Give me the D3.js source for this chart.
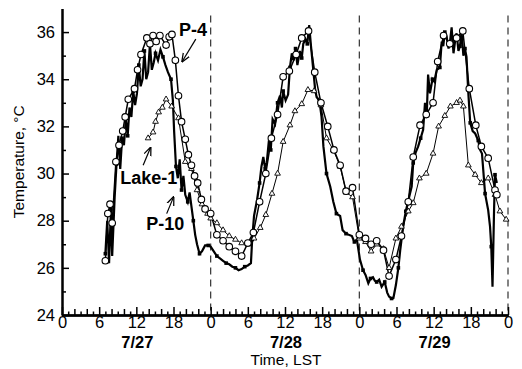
<!DOCTYPE html>
<html>
<head>
<meta charset="utf-8">
<script src="https://cdn.jsdelivr.net/npm/d3@7"></script>
<style>
  body { margin: 0; background: #fff; }
  svg { font-family: "Liberation Sans", Arial, Helvetica, sans-serif; }
</style>
</head>
<body>
<svg id="chart"></svg>
<script>
// [hour since 7/27 00:00, temperature °C]
const p4 = [
  [7.0, 26.3], [7.4, 28.3], [7.75, 28.7], [8.1, 27.9], [8.7, 30.5], [9.2, 31.2], [9.8, 31.8],
  [10.2, 32.4], [10.7, 33.15], [11.7, 33.6], [12.2, 34.4], [12.75, 35.05], [13.7, 35.75],
  [14.2, 35.5], [14.7, 35.85], [15.2, 35.6], [15.8, 35.85], [16.8, 35.45], [17.3, 35.8],
  [17.75, 35.9], [18.3, 34.8], [18.8, 33.3], [19.3, 32.2], [19.9, 31.45], [20.4, 30.8],
  [20.9, 30.35], [21.4, 29.9], [21.9, 29.6], [22.5, 28.9], [23.1, 28.5], [24.0, 28.3],
  [25.0, 27.4], [26.0, 27.15], [27.0, 26.9], [28.0, 26.7], [29.0, 26.5], [30.0, 27.05],
  [30.9, 27.5], [31.9, 28.8], [32.9, 30.0], [33.8, 31.5], [34.8, 32.5], [35.7, 34.1],
  [36.7, 34.35], [37.8, 35.05], [38.7, 35.75], [39.8, 36.05], [40.8, 34.3], [41.8, 33.0],
  [42.9, 32.0], [43.9, 31.0], [44.9, 30.35], [45.85, 29.25], [46.9, 29.4], [48.0, 27.4],
  [49.0, 27.25], [49.9, 27.0], [50.8, 27.15], [51.9, 26.75], [52.8, 25.65], [53.9, 26.35],
  [54.8, 27.35], [55.9, 28.8], [56.7, 30.7], [57.8, 32.05], [58.8, 32.5], [59.9, 33.0],
  [60.65, 34.75], [61.6, 35.85], [62.6, 35.5], [63.7, 35.75], [64.7, 36.05], [65.75, 33.6],
  [66.8, 32.05], [67.7, 31.15], [68.8, 30.65], [69.9, 29.3], [70.2, 29.1]
];

const lake1 = [
  [13.9, 31.5], [14.7, 31.75], [15.1, 32.2], [15.6, 32.6], [16.2, 32.8], [16.8, 33.15],
  [17.7, 32.85], [18.8, 32.35], [19.9, 30.5], [20.9, 30.2], [21.8, 29.3], [22.6, 28.7],
  [23.5, 28.3], [24.0, 28.1], [25.0, 27.9], [26.0, 27.6], [27.0, 27.35], [28.0, 27.2],
  [29.0, 27.05], [30.0, 27.0], [31.0, 27.25], [32.0, 27.7], [32.9, 28.25], [33.9, 29.15],
  [34.8, 30.0], [35.7, 31.35], [36.8, 32.05], [37.6, 32.65], [38.7, 32.95], [39.7, 33.55],
  [40.7, 33.5], [41.8, 32.9], [42.7, 31.5], [43.8, 31.0], [44.9, 30.3], [45.9, 29.2],
  [46.9, 29.0], [48.0, 27.25], [49.0, 27.1], [49.9, 26.7], [50.8, 27.0], [51.9, 26.8],
  [52.8, 26.0], [53.9, 27.25], [54.8, 27.75], [55.9, 28.4], [56.7, 28.75], [57.7, 29.8],
  [58.8, 30.0], [59.9, 30.85], [60.8, 32.0], [61.8, 32.45], [62.7, 32.85], [63.7, 33.0],
  [64.25, 33.1], [64.8, 32.85], [65.6, 30.35], [66.7, 29.95], [67.7, 29.6], [68.8, 29.8],
  [69.9, 29.1], [70.7, 28.4], [71.7, 28.05]
];

const p10 = [
  [7.0, 26.6], [7.3, 28.0], [7.6, 26.2], [7.9, 28.5], [8.1, 26.5], [8.5, 29.0], [8.8, 30.4],
  [9.1, 31.6], [9.4, 30.2], [9.7, 31.5], [10.0, 31.2], [10.3, 32.3], [10.6, 31.6], [10.9, 32.8],
  [11.2, 32.4], [11.5, 33.5], [11.8, 32.9], [12.1, 33.4], [12.4, 34.6], [12.7, 33.7],
  [13.0, 34.0], [13.3, 35.2], [13.6, 34.0], [13.9, 34.3], [14.2, 35.5], [14.5, 34.4],
  [14.8, 34.7], [15.1, 35.1], [15.5, 34.8], [15.9, 35.25], [16.3, 34.95], [16.7, 34.6],
  [17.1, 34.3], [17.6, 34.0], [17.9, 33.1], [18.1, 31.8], [18.4, 30.3], [18.7, 29.8],
  [19.0, 30.6], [19.3, 29.3], [19.6, 29.9], [19.9, 29.1], [20.3, 28.8], [20.6, 29.2],
  [20.9, 28.6], [21.2, 28.0], [21.5, 27.4], [21.8, 27.0], [22.2, 26.6], [22.6, 26.7],
  [23.1, 26.95], [23.6, 26.95], [24.0, 26.9], [24.5, 26.7], [25.0, 26.5], [25.5, 26.4],
  [26.0, 26.3], [26.5, 26.2], [27.0, 26.15], [27.5, 26.05], [28.0, 26.0], [28.5, 25.9],
  [29.0, 25.95], [29.5, 26.05], [30.0, 26.1], [30.5, 26.2], [30.7, 27.2], [31.0, 28.2],
  [31.5, 28.9], [31.9, 29.6], [32.2, 30.3], [32.5, 30.7], [32.8, 30.2], [33.05, 30.45],
  [33.4, 31.4], [33.7, 31.0], [34.0, 32.3], [34.4, 32.1], [34.8, 33.0], [35.2, 33.3],
  [35.5, 32.8], [35.7, 33.5], [36.1, 33.1], [36.5, 33.35], [36.8, 34.5], [37.1, 35.1],
  [37.4, 34.8], [37.7, 35.3], [38.0, 34.6], [38.4, 35.2], [38.7, 34.9], [38.95, 35.5],
  [39.3, 35.7], [39.6, 35.5], [39.9, 36.3], [40.2, 35.4], [40.6, 34.3], [40.85, 33.6],
  [41.1, 33.25], [41.55, 33.1], [41.9, 32.4], [42.2, 31.15], [42.7, 30.0], [43.3, 29.45],
  [43.8, 28.8], [44.3, 28.3], [44.9, 28.2], [45.3, 27.6], [45.85, 27.45], [46.3, 27.4],
  [46.8, 27.35], [47.2, 27.1], [47.6, 27.2], [48.1, 26.35], [48.6, 25.9], [49.0, 25.7],
  [49.45, 25.35], [49.8, 25.55], [50.2, 25.6], [50.5, 25.45], [50.8, 25.4], [51.2, 25.5],
  [51.6, 25.2], [52.1, 25.4], [52.5, 24.95], [52.8, 24.78], [53.2, 24.7], [53.5, 24.72],
  [53.9, 25.27], [54.3, 26.0], [54.6, 26.75], [55.1, 27.8], [55.5, 28.4], [55.9, 28.85],
  [56.45, 29.45], [56.7, 30.45], [57.1, 30.9], [57.5, 31.15], [57.9, 31.5], [58.3, 31.85],
  [58.6, 33.0], [58.9, 32.6], [59.1, 34.2], [59.4, 33.4], [59.8, 34.0], [60.1, 33.9],
  [60.5, 34.4], [61.0, 34.5], [61.3, 35.6], [61.55, 35.4], [61.8, 36.0], [62.1, 35.8],
  [62.4, 35.3], [62.6, 35.5], [62.9, 36.2], [63.2, 35.1], [63.5, 35.7], [63.7, 35.95],
  [64.0, 35.2], [64.25, 35.4], [64.5, 36.0], [64.8, 35.0], [65.05, 35.3], [65.3, 34.95],
  [65.6, 33.4], [65.9, 32.15], [66.3, 31.8], [66.7, 31.7], [67.2, 31.4], [67.5, 31.0],
  [67.8, 30.85], [68.3, 29.15], [68.8, 28.45], [69.1, 27.75], [69.3, 26.9], [69.5, 25.2],
  [69.75, 28.45], [69.9, 29.95], [70.2, 29.6]
];

const yMajorTicks = [24, 26, 28, 30, 32, 34, 36];
const yMinorTicks = [25, 27, 29, 31, 33, 35];
const xMajorTicks = [0, 6, 12, 18, 24, 30, 36, 42, 48, 54, 60, 66, 72];
const dayLabels = ['7/27', '7/28', '7/29'];
const dayCenters = [12, 36, 60];
const midnights = [24, 48, 72];

// series labels, placed in data coordinates: text anchor and arrow from -> to
const seriesNotes = [
  { text: 'P-4', at: [18.9, 35.85], arrow: [[21.6, 35.7], [19.4, 34.75]] },
  { text: 'Lake-1', at: [9.4, 29.55], arrow: [[13.1, 30.35], [14.3, 31.1]] },
  { text: 'P-10', at: [13.6, 27.6], arrow: [[16.9, 28.3], [18.0, 29.0]] }
];

const svgWidth = 522;
const svgHeight = 369;
const margin = { top: 8.5, right: 14, bottom: 54, left: 62 };
const width = svgWidth - margin.left - margin.right;
const height = svgHeight - margin.top - margin.bottom;

const x = d3.scaleLinear().domain([0, 72]).range([0, width]);
const y = d3.scaleLinear().domain([24, 37]).range([height, 0]);

const svg = d3.select('#chart')
  .attr('width', svgWidth)
  .attr('height', svgHeight)
  .append('g')
    .attr('transform', `translate(${margin.left}, ${margin.top})`);

svg.append('defs').append('marker')
  .attr('id', 'head')
  .attr('viewBox', '0 0 10 10')
  .attr('refX', 9)
  .attr('refY', 5)
  .attr('markerWidth', 9)
  .attr('markerHeight', 9)
  .attr('markerUnits', 'userSpaceOnUse')
  .attr('orient', 'auto')
  .append('path')
    .attr('d', 'M0,1 L10,5 L0,9')
    .attr('fill', 'none')
    .attr('stroke', '#000')
    .attr('stroke-width', 1.4);

// day boundaries
svg.selectAll('.midnight')
  .data(midnights)
  .enter()
  .append('line')
    .attr('class', 'midnight')
    .attr('x1', d => x(d))
    .attr('x2', d => x(d))
    .attr('y1', y(36.7))
    .attr('y2', y(24))
    .attr('stroke', '#333')
    .attr('stroke-width', 1.2)
    .attr('stroke-dasharray', '7,5');

const line = d3.line()
  .x(d => x(d[0]))
  .y(d => y(d[1]));

svg.append('path').datum(lake1)
  .attr('d', line).attr('fill', 'none').attr('stroke', '#000').attr('stroke-width', 1);
svg.append('path').datum(p4)
  .attr('d', line).attr('fill', 'none').attr('stroke', '#000').attr('stroke-width', 1.5);
svg.append('path').datum(p10)
  .attr('d', line).attr('fill', 'none').attr('stroke', '#000').attr('stroke-width', 2.2)
  .attr('stroke-linejoin', 'miter');

// P-10 marks
svg.selectAll('.sq')
  .data(p10.filter((d, i) => i % 3 === 0))
  .enter()
  .append('rect')
    .attr('class', 'sq')
    .attr('x', d => x(d[0]) - 1.8)
    .attr('y', d => y(d[1]) - 1.8)
    .attr('width', 3.6)
    .attr('height', 3.6)
    .attr('fill', '#000');

svg.selectAll('.tri')
  .data(lake1)
  .enter()
  .append('path')
    .attr('class', 'tri')
    .attr('transform', d => `translate(${x(d[0])}, ${y(d[1])})`)
    .attr('d', d3.symbol(d3.symbolTriangle, 14))
    .attr('fill', '#fff')
    .attr('stroke', '#000')
    .attr('stroke-width', 0.9);

svg.selectAll('.dot')
  .data(p4)
  .enter()
  .append('circle')
    .attr('class', 'dot')
    .attr('cx', d => x(d[0]))
    .attr('cy', d => y(d[1]))
    .attr('r', 3.3)
    .attr('fill', '#fff')
    .attr('stroke', '#000')
    .attr('stroke-width', 1.1);

// axes
const yAxis = d3.axisLeft(y).tickValues(yMajorTicks).tickSize(-7).tickSizeOuter(0).tickPadding(7);
const yMinor = d3.axisLeft(y).tickValues(yMinorTicks).tickSize(-4).tickSizeOuter(0).tickFormat('');
const xAxis = d3.axisBottom(x).tickValues(xMajorTicks).tickSize(-8).tickSizeOuter(0)
  .tickPadding(1.5).tickFormat(d => d % 24);
const xMid = d3.axisBottom(x).tickValues(d3.range(2, 72, 2).filter(d => d % 6 !== 0))
  .tickSize(-6).tickSizeOuter(0).tickFormat('');
const xMinor = d3.axisBottom(x).tickValues(d3.range(1, 72, 2))
  .tickSize(-3.5).tickSizeOuter(0).tickFormat('');

function styleAxis(g) {
  g.select('.domain').attr('stroke-width', 2);
  g.selectAll('.tick line').attr('stroke-width', 1.5);
  g.selectAll('.tick text').attr('font-size', 16.5).attr('fill', '#000')
    .attr('font-family', '"Liberation Sans", Arial, sans-serif');
}

svg.append('g').call(yMinor).call(styleAxis);
svg.append('g').call(yAxis).call(styleAxis);
svg.append('g').attr('transform', `translate(0, ${height})`).call(xMinor).call(styleAxis);
svg.append('g').attr('transform', `translate(0, ${height})`).call(xMid).call(styleAxis);
svg.append('g').attr('transform', `translate(0, ${height})`).call(xAxis).call(styleAxis);

svg.selectAll('.day')
  .data(dayLabels)
  .enter()
  .append('text')
    .attr('class', 'day')
    .attr('x', (d, i) => x(dayCenters[i]) + 1)
    .attr('y', height + 32.5)
    .attr('text-anchor', 'middle')
    .attr('font-size', 16.5)
    .attr('font-weight', 'bold')
    .text(d => d);

svg.append('text')
  .attr('x', width / 2 + 1)
  .attr('y', height + 49.5)
  .attr('text-anchor', 'middle')
  .attr('font-size', 15.5)
  .text('Time, LST');

svg.append('text')
  .attr('transform', `translate(${23.5 - margin.left}, ${height / 2}) rotate(-90)`)
  .attr('text-anchor', 'middle')
  .attr('font-size', 15.5)
  .text('Temperature, °C');

// series labels with arrows
svg.selectAll('.note')
  .data(seriesNotes)
  .enter()
  .append('text')
    .attr('class', 'note')
    .attr('x', d => x(d.at[0]))
    .attr('y', d => y(d.at[1]))
    .attr('font-size', 18)
    .attr('font-weight', 'bold')
    .text(d => d.text);

svg.selectAll('.arrow')
  .data(seriesNotes)
  .enter()
  .append('line')
    .attr('class', 'arrow')
    .attr('x1', d => x(d.arrow[0][0]))
    .attr('y1', d => y(d.arrow[0][1]))
    .attr('x2', d => x(d.arrow[1][0]))
    .attr('y2', d => y(d.arrow[1][1]))
    .attr('stroke', '#000')
    .attr('stroke-width', 1.2)
    .attr('marker-end', 'url(#head)');
</script>
</body>
</html>
